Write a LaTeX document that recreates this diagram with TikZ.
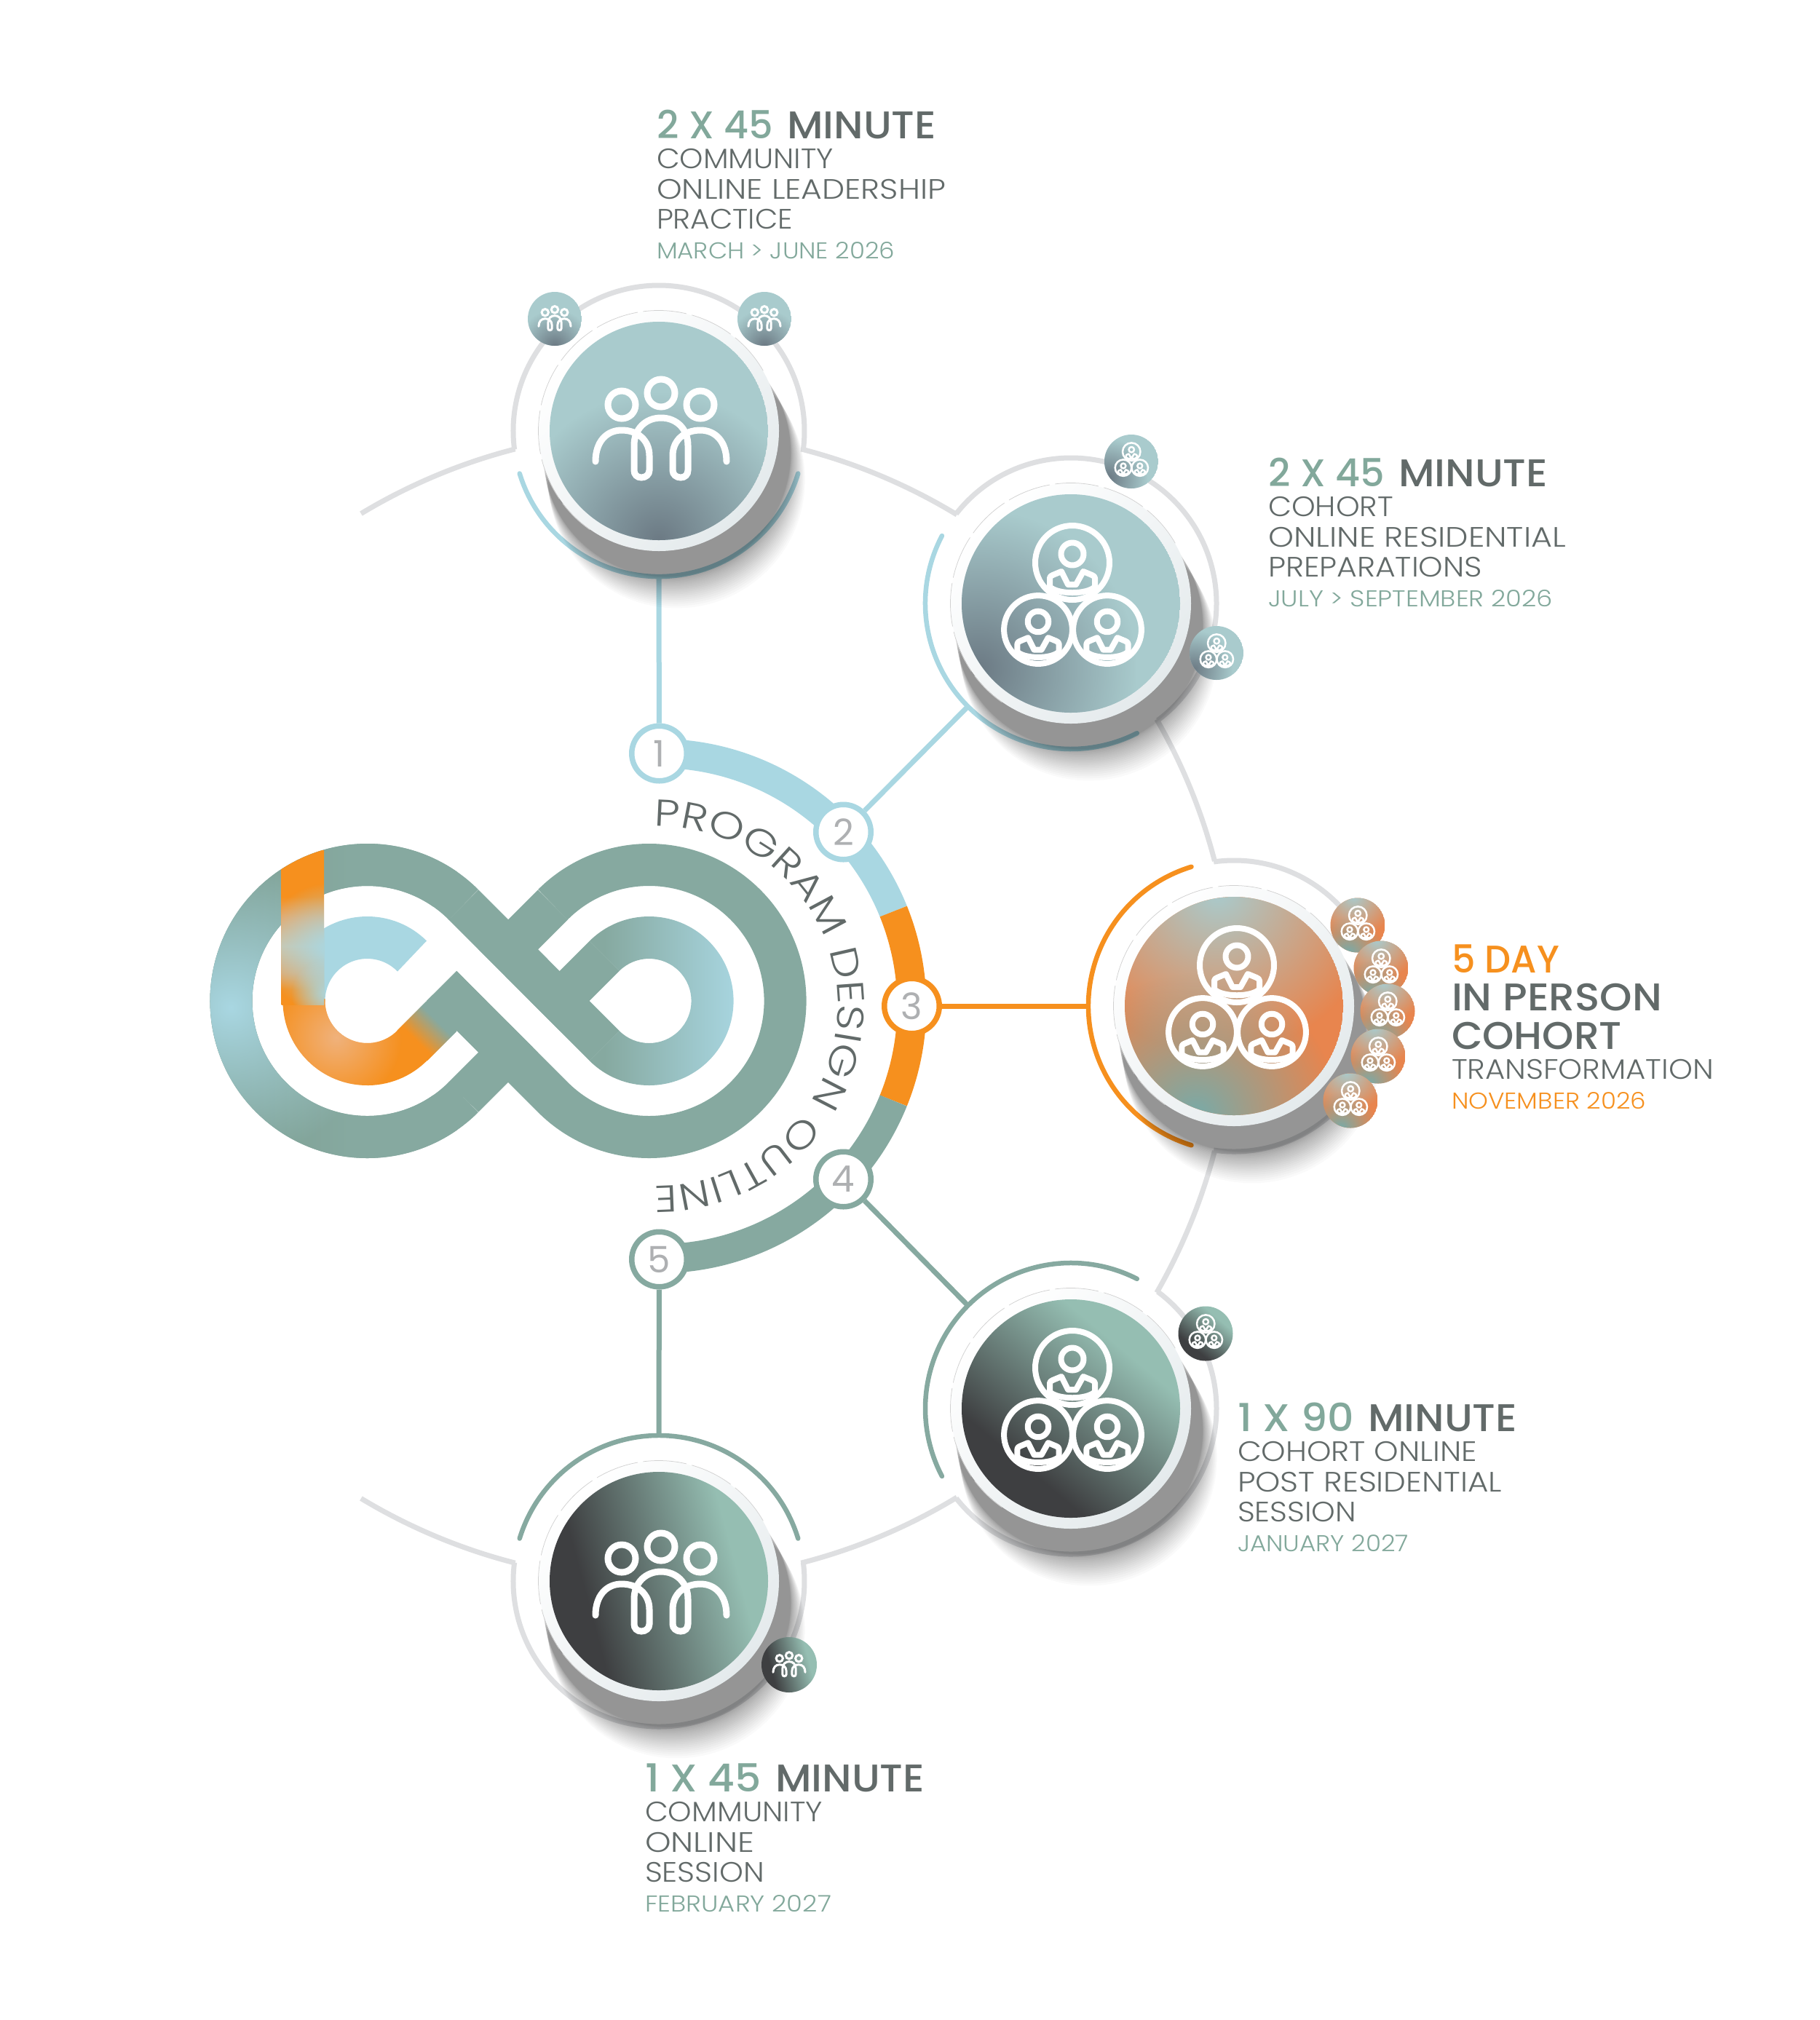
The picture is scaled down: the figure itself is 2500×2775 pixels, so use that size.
\documentclass[tikz,border=0pt]{standalone}
\usepackage{fontspec}
\usetikzlibrary{fadings,decorations.text}
\setmainfont{Poppins Light}
\newfontfamily\freg{Poppins}
\newfontfamily\fmed{Poppins Medium}
\newfontfamily\fring{Poppins Light}[FakeStretch=1.2]
\definecolor{lb}{HTML}{A9D7E2}
\definecolor{ringteal}{HTML}{86A9A0}
\definecolor{darkt}{HTML}{7B9C8E}
\definecolor{orng}{HTML}{F6901E}
\definecolor{frame}{HTML}{DEDFE1}
\definecolor{greytxt}{HTML}{626A69}
\definecolor{tealtxt}{HTML}{82A89B}
\definecolor{numgrey}{HTML}{AEB0B2}
\definecolor{dbase}{HTML}{A9CBCD}
\definecolor{dshade}{HTML}{6C7A84}
\definecolor{dorange}{HTML}{E8854E}
\definecolor{dteal}{HTML}{78ABA9}
\definecolor{rimgrey}{HTML}{E4EAEC}
\definecolor{ddark}{HTML}{3E3F41}
\definecolor{dgreen}{HTML}{95BEB2}
\definecolor{tan1}{HTML}{E3A868}
\definecolor{tan2}{HTML}{D0C4A6}
\definecolor{tan3}{HTML}{E8A868}
\definecolor{softor}{HTML}{F0B27C}
\tikzfading[name=softglow, inner color=transparent!0, outer color=transparent!100]
\pgfdeclarehorizontalshading{tealblue}{100bp}{color(0bp)=(ringteal);color(30bp)=(ringteal);color(75bp)=(lb);color(100bp)=(lb)}
\pgfdeclarehorizontalshading{tealdark}{100bp}{color(0bp)=(darkt);color(27bp)=(darkt);color(55bp)=(ringteal);color(100bp)=(ringteal)}
\pgfdeclareverticalshading{sticksh}{100bp}{color(0bp)=(orng);color(30bp)=(orng);color(35bp)=(tan1);color(44bp)=(tan2);color(53bp)=(tan3);color(60bp)=(orng);color(100bp)=(orng)}
\pgfdeclareverticalshading{orangeteal}{100bp}{color(0bp)=(orng);color(38bp)=(orng);color(62bp)=(ringteal);color(100bp)=(ringteal)}
\pgfdeclareverticalshading{darkgreen}{100bp}{color(0bp)=(ddark);color(33bp)=(ddark);color(68bp)=(dgreen);color(100bp)=(dgreen)}
\newsavebox\fitbox
\newcommand{\fitw}[2]{\sbox\fitbox{#2}\pgfmathsetmacro\fitr{#1*0.2/\the\wd\fitbox}\scalebox{\fitr}[1]{\usebox\fitbox}}
\newcommand{\headline}[1]{\makebox[35.8pt][l]{\color{tealtxt}\fitw{160}{#1}}\fitw{205}{MINUTE}}
\tikzset{
 frameline/.style={draw=frame,line width=1.4pt},
 colarc/.style={line width=1.3pt,line cap=round},
 conn/.style={line width=1.4pt},
 numnode/.style={circle,fill=white,line width=1.5pt,minimum size=15.1pt,inner sep=0pt,text=numgrey,font=\freg\fontsize{10}{12}\selectfont},
 tx/.style={anchor=base west,inner sep=0pt,outer sep=0pt},
 headf/.style={tx,text=greytxt,font=\fmed\fontsize{10.6}{12}\selectfont},
 bodyf/.style={tx,text=greytxt,font=\fontsize{7.7}{9}\selectfont},
 datef/.style={tx,text=tealtxt,font=\fontsize{6.3}{8}\selectfont},
 band/.style={line width=11.6pt},
}
\newcommand{\discshadow}[2]{%
 \foreach \i in {0,...,23}{\pgfmathsetmacro\tt{.5+.62*(\i/23)^1.6}%
  \fill[black,opacity=.02] ({#1+22*\tt},{-#2-60*\tt}) circle ({165+10*\tt});}%
 \shade[top color=white,bottom color=rimgrey,shading angle=45] (#1,-#2) circle (165);
 \draw[line width=.15pt,color=black!18,dash pattern=on 12pt off 1.5pt] (#1,-#2) ++(30:165.5) arc[start angle=30,end angle=235,radius=165.5];}
\newcommand{\discblue}[3]{\begin{scope}\clip (#1,-#2) circle (#3);
 \fill[dbase] (#1,-#2) circle (#3);
 \fill[dshade,path fading=softglow] (#1,{-#2-#3}) circle ({1.35*#3});\end{scope}}
\newcommand{\discbluel}[3]{\begin{scope}\clip (#1,-#2) circle (#3);
 \fill[dbase] (#1,-#2) circle (#3);
 \fill[dshade,path fading=softglow] ({#1-.85*#3},{-#2-.6*#3}) circle ({1.45*#3});\end{scope}}
\newcommand{\discorange}[3]{\begin{scope}\clip (#1,-#2) circle (#3);
 \fill[dorange] (#1,-#2) circle (#3);
 \fill[dbase,path fading=softglow] ({#1-.15*#3},{-#2+1.05*#3}) circle ({1.5*#3});
 \fill[dteal,path fading=softglow] ({#1-.35*#3},{-#2-1.0*#3}) circle ({1.3*#3});\end{scope}}
\newcommand{\discdark}[4]{\shade[shading=darkgreen,shading angle=#4] (#1,-#2) circle (#3);}
\newcommand{\peopleicon}[3]{\begin{scope}[shift={(#1,-#2)},xscale=#3,yscale=-#3,line width={max(0.6,1.8*#3)*1pt},line cap=round,draw=white]
 \draw (0,-52) circle (19) (-54,-36) circle (19) (54,-36) circle (19);
 \draw (-90,42) .. controls (-90,15) and (-75,-1) .. (-54,-1) .. controls (-33,-1) and (-16,12) .. (-16,34) -- (-16,54) .. controls (-16,60) and (-21,64) .. (-27,64) .. controls (-33,64) and (-37,60) .. (-37,54) -- (-37,20) .. controls (-37,-3) and (-21,-18) .. (0,-18) .. controls (21,-18) and (37,-3) .. (37,20) -- (37,54) .. controls (37,60) and (33,64) .. (27,64) .. controls (21,64) and (16,60) .. (16,54) -- (16,34) .. controls (16,12) and (33,-1) .. (54,-1) .. controls (75,-1) and (90,15) .. (90,42);
\end{scope}}
\newcommand{\oneperson}[3]{\begin{scope}[shift={(#1,#2)},scale=#3]
 \draw (0,0) circle (51) (0,-12) circle (15.5);
 \draw (-31,33) -- (-31,21) .. controls (-31,19) and (-29,18) .. (-27,17) -- (-15,12) -- (-6,30) -- (5,30) -- (15,12) -- (27,17) .. controls (29,18) and (31,19) .. (31,21) -- (31,33) .. controls (20,44) and (-20,44) .. (-31,33) -- cycle;
\end{scope}}
\newcommand{\cohorticon}[3]{\begin{scope}[shift={(#1,-#2)},xscale=#3,yscale=-#3,line width={max(0.5,1.6*#3)*1pt},line join=round,draw=white]
 \oneperson{1}{-56}{1}\oneperson{-46}{36}{.92}\oneperson{49}{36}{.92}
\end{scope}}
\begin{document}
\begin{tikzpicture}[x=0.2pt,y=0.2pt]
\useasboundingbox (0,0) rectangle (2500,-2775);
\fill[white] (0,0) rectangle (2500,-2775);
\coordinate (O) at (904,-1382);
\coordinate (Q) at (905.5,-1382);
\coordinate (L) at (504.5,-1375);
\coordinate (R) at (891.6,-1375);
% ---- big circle and frames ----
\path[frameline]
 (O) ++(121.1:790) arc[start angle=121.1,end angle=104.4,radius=790]
 (O) ++(75.6:790) arc[start angle=75.6,end angle=58.7,radius=790]
 (O) ++(29.9:790) arc[start angle=29.9,end angle=14.6,radius=790]
 (O) ++(-121.1:790) arc[start angle=-121.1,end angle=-104.4,radius=790]
 (O) ++(-75.6:790) arc[start angle=-75.6,end angle=-58.7,radius=790]
 (O) ++(-29.9:790) arc[start angle=-29.9,end angle=-14.6,radius=790]
 (905,-592) ++(187.3:200) arc[start angle=187.3,end angle=-7.3,radius=200]
 (1471,-829) ++(142:200) arc[start angle=142,end angle=-53.4,radius=200]
 (1695,-1382) ++(98:200) arc[start angle=98,end angle=-98,radius=200]
 (1471,-1935) ++(53.4:200) arc[start angle=53.4,end angle=-142,radius=200]
 (905,-2172) ++(172.7:200) arc[start angle=172.7,end angle=367.3,radius=200];
% ---- coloured arcs ----
\draw[colarc,lb] (905,-592) ++(197:200) arc[start angle=197,end angle=343,radius=200];
\draw[colarc,lb] (1471,-829) ++(152.3:200) arc[start angle=152.3,end angle=297,radius=200];
\draw[colarc,orng] (1695,-1382) ++(107:200) arc[start angle=107,end angle=253,radius=200];
\draw[colarc,ringteal] (1471,-1935) ++(63:200) arc[start angle=63,end angle=207.7,radius=200];
\draw[colarc,ringteal] (905,-2172) ++(17:200) arc[start angle=17,end angle=163,radius=200];
% ---- ring ----
\draw[lb,line width=8pt] (Q) ++(90:347) arc[start angle=90,end angle=22,radius=347];
\draw[orng,line width=8pt] (Q) ++(22:347) arc[start angle=22,end angle=-22,radius=347];
\draw[ringteal,line width=8pt] (Q) ++(-22:347) arc[start angle=-22,end angle=-90,radius=347];
\path[decorate,decoration={text along path,text align={fit to path},text={|\fring\fontsize{10.3}{12}\selectfont\color{greytxt}|PROGRAM DESIGN OUTLINE}}]
 (O) ++(91.3:247) arc[start angle=91.3,end angle=-91.3,radius=247];
% ---- number nodes and connectors ----
\node[numnode,draw=lb] (n1) at (905.5,-1035) {1};
\node[numnode,draw=lb] (n2) at (1158.5,-1143) {2};
\node[numnode,draw=orng] (n3) at (1252.5,-1382) {3};
\node[numnode,draw=ringteal] (n4) at (1158.5,-1620) {4};
\node[numnode,draw=ringteal] (n5) at (905.5,-1730) {5};
\coordinate (a1) at (905,-793);
\coordinate (a2) at (1330,-970);
\coordinate (a3) at (1495,-1382);
\coordinate (a4) at (1330,-1794);
\coordinate (a5) at (905,-1971);
\draw[conn,lb] (n1) -- (a1);
\draw[conn,lb] (n2) -- (a2);
\draw[conn,orng] (n3) -- (a3);
\draw[conn,ringteal] (n4) -- (a4);
\draw[conn,ringteal] (n5) -- (a5);
% ---- infinity logo ----
\draw[band,ringteal] (636.7,-1507.2) -- (830.1,-1313.5);
\draw[band,ringteal] (759.4,-1243) -- (566,-1436.5);
\draw[white,line width=8.4pt] (601.4,-1278) -- (794.7,-1472);
\draw[band,ringteal] (R) ++(135:187) arc[start angle=135,end angle=-135,radius=187] -- (606.75,-1354.25);
\draw[band,ringteal] (L) ++(45:187) arc[start angle=45,end angle=315,radius=187];
\draw[band,ringteal] (636.7,-1242.8) -- (830.1,-1436.5);
\shade[shading=tealblue] (R) ++(135:116) arc[start angle=135,end angle=-135,radius=116] -- ++(45:58) arc[start angle=-135,end angle=135,radius=58] -- cycle;
\begin{scope}
 \clip (L) ++(55:216) arc[start angle=55,end angle=305,radius=216] -- ++(125:58) arc[start angle=305,end angle=55,radius=158] -- cycle;
 \shade[shading=tealdark] (L) ++(55:216) arc[start angle=55,end angle=305,radius=216] -- ++(125:58) arc[start angle=305,end angle=55,radius=158] -- cycle;
 \fill[lb,path fading=softglow] (317,-1384) circle (210);
\end{scope}
\draw[band,lb] (L) ++(45:87) arc[start angle=45,end angle=180,radius=87];
\draw[band,orng] (L) ++(178:87) arc[start angle=178,end angle=316,radius=87];
\begin{scope}
 \clip (L) ++(178:116) arc[start angle=178,end angle=316,radius=116] -- ++(136:58) arc[start angle=316,end angle=178,radius=58] -- cycle;
 \fill[softor,path fading=softglow] (462,-1425) circle (90);
\end{scope}
\shade[shading=orangeteal,shading angle=-45] (545.5,-1415.5) -- (587,-1457) -- (627,-1417) -- (585.5,-1375.5) -- cycle;
\begin{scope}
 \clip (L) circle (216);
 \clip (386.5,-1150) rectangle (445,-1380);
 \shade[shading=sticksh] (386.5,-1168) rectangle (445,-1380);
 \fill[lb,path fading=softglow] (452,-1303) circle (90);
 \fill[lb,path fading=softglow] (450,-1365) circle (50);
\end{scope}
% ---- discs ----
\discshadow{905}{592}
\discblue{905}{592}{150}
\peopleicon{908}{592}{1}
\discblue{762}{438}{37}\peopleicon{762}{438}{.245}
\discblue{1050}{438}{37}\peopleicon{1050}{438}{.245}
\discshadow{1471}{829}
\discbluel{1471}{829}{150}
\cohorticon{1472}{829}{1}
\discbluel{1554}{634}{37}\cohorticon{1554}{634}{.24}
\discbluel{1671}{897}{37}\cohorticon{1671}{897}{.24}
\discshadow{1695}{1382}
\discorange{1695}{1382}{150}
\cohorticon{1698}{1382}{1}
\discorange{1865}{1271}{37.5}\cohorticon{1865}{1271}{.24}
\discorange{1897}{1330}{37.5}\cohorticon{1897}{1330}{.24}
\discorange{1906}{1389}{37.5}\cohorticon{1906}{1389}{.24}
\discorange{1893}{1451}{37.5}\cohorticon{1893}{1451}{.24}
\discorange{1855}{1512}{37.5}\cohorticon{1855}{1512}{.24}
\discshadow{1471}{1935}
\discdark{1471}{1935}{150}{-40}
\cohorticon{1472}{1935}{1}
\discdark{1656}{1832}{37.5}{-40}\cohorticon{1656}{1832}{.24}
\discshadow{905}{2172}
\discdark{905}{2172}{150}{-75}
\peopleicon{908}{2177}{1}
\discdark{1084}{2287}{38}{-75}\peopleicon{1084}{2287}{.245}
% ---- text ----
\node[headf] (t1a) at (902,-190) {\headline{2 X 45}};
\node[bodyf] (t1b) at (902,-231) {\fitw{243}{COMMUNITY}};
\node[bodyf] (t1c) at (902,-273) {\fitw{397}{ONLINE LEADERSHIP}};
\node[bodyf] (t1d) at (902,-314) {\fitw{187}{PRACTICE}};
\node[datef] (t1e) at (902,-355) {\fitw{327}{MARCH > JUNE 2026}};
\node[headf] (t2a) at (1742,-668) {\headline{2 X 45}};
\node[bodyf] (t2b) at (1742,-709) {\fitw{172}{COHORT}};
\node[bodyf] (t2c) at (1742,-751) {\fitw{409}{ONLINE RESIDENTIAL}};
\node[bodyf] (t2d) at (1742,-792) {\fitw{294}{PREPARATIONS}};
\node[datef] (t2e) at (1742,-833) {\fitw{391}{JULY > SEPTEMBER 2026}};
\node[headf,text=orng] (t3a) at (1994,-1336) {\fitw{148}{5 DAY}};
\node[headf] (t3b) at (1994,-1388) {\fitw{289}{IN PERSON}};
\node[headf] (t3c) at (1994,-1441) {\fitw{234}{COHORT}};
\node[bodyf] (t3d) at (1994,-1482) {\fitw{360}{TRANSFORMATION}};
\node[datef,text=orng] (t3e) at (1994,-1523) {\fitw{267}{NOVEMBER 2026}};
\node[headf] (t4a) at (1700,-1966) {\headline{1 X 90}};
\node[bodyf] (t4b) at (1700,-2007) {\fitw{329}{COHORT ONLINE}};
\node[bodyf] (t4c) at (1700,-2049) {\fitw{363}{POST RESIDENTIAL}};
\node[bodyf] (t4d) at (1700,-2090) {\fitw{163}{SESSION}};
\node[datef] (t4e) at (1700,-2131) {\fitw{235}{JANUARY 2027}};
\node[headf] (t5a) at (886,-2461) {\headline{1 X 45}};
\node[bodyf] (t5b) at (886,-2502) {\fitw{244}{COMMUNITY}};
\node[bodyf] (t5c) at (886,-2544) {\fitw{150}{ONLINE}};
\node[bodyf] (t5d) at (886,-2585) {\fitw{164}{SESSION}};
\node[datef] (t5e) at (886,-2626) {\fitw{256}{FEBRUARY 2027}};
\end{tikzpicture}
\end{document}
